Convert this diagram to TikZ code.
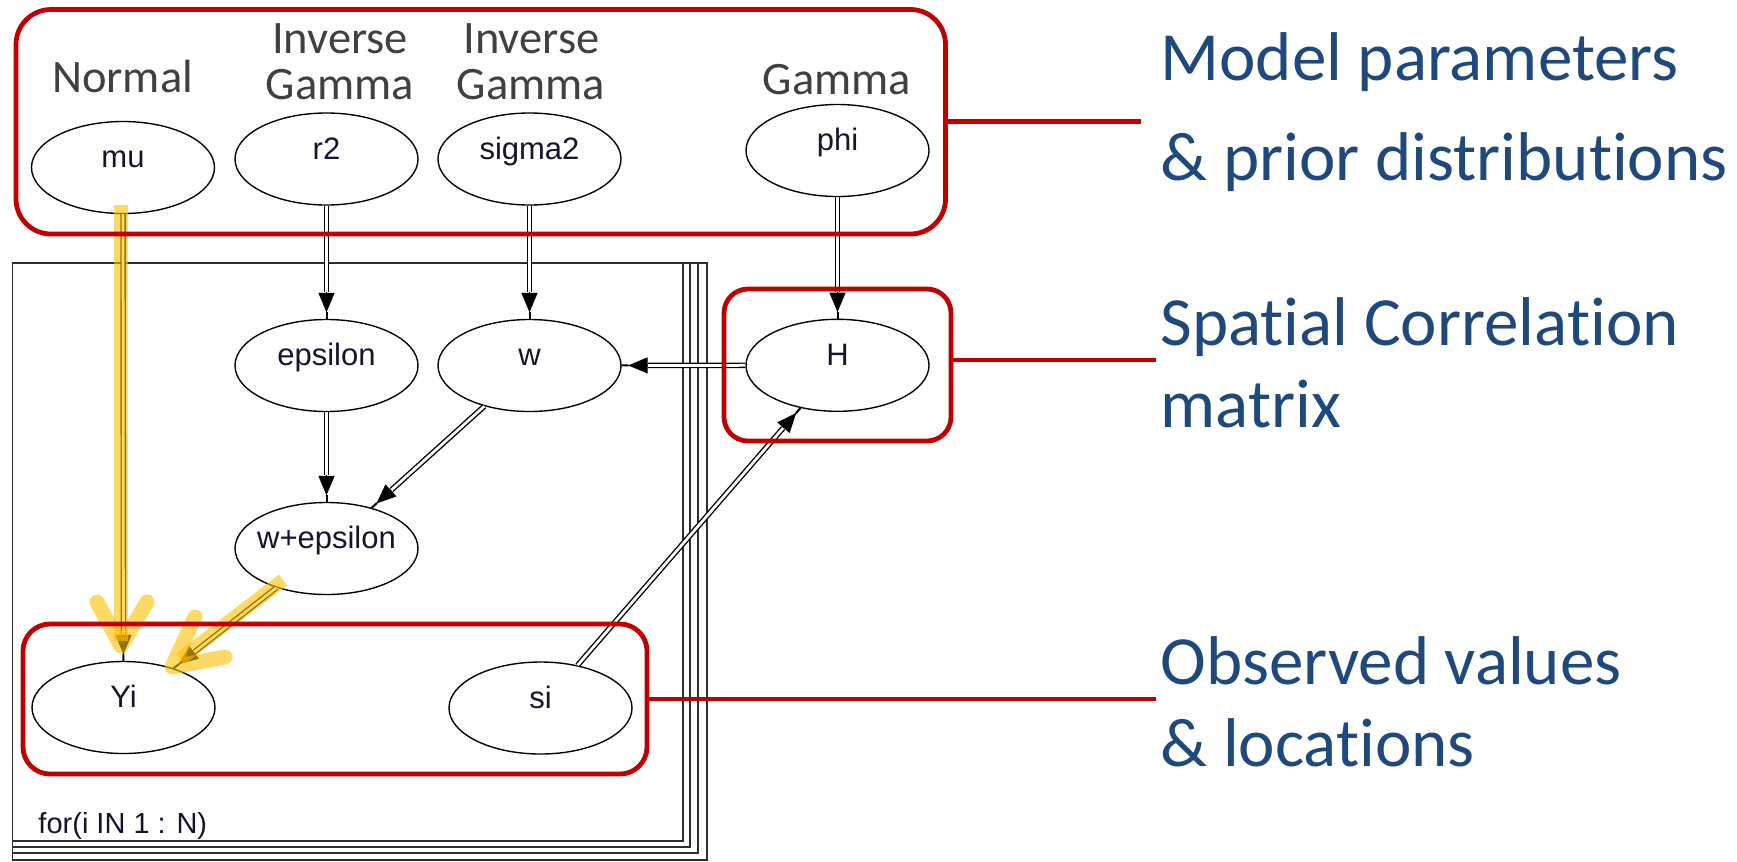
\documentclass[tikz,border=0pt]{standalone}
\usepackage{fontspec}
\setmainfont{Carlito}[Ligatures=NoCommon]
\newfontfamily\nodefont{Liberation Sans}
\usetikzlibrary{shapes.geometric,arrows.meta}

\definecolor{groupred}{HTML}{C00000}
\definecolor{notetext}{RGB}{31,73,125}
\definecolor{distgray}{HTML}{404040}
\definecolor{nodeink}{RGB}{20,20,45}
\definecolor{plategray}{HTML}{2E2E2E}
\definecolor{marker}{HTML}{FFC000}

\tikzset{
  var/.style={ellipse, draw=black, line width=0.55pt, inner sep=0pt,
    minimum width=73.2pt, minimum height=36.8pt,
    text height=4pt, text depth=4pt, text=nodeink,
    font=\nodefont\fontsize{12.4}{14}\selectfont},
  link/.style={line width=0.55pt, draw=black,
    -{Triangle[length=7.8pt,width=6.4pt] Rectangle[length=2.6pt,width=0.3pt]},
    postaction={draw, -, line width=0.55pt, double=white,
      double distance=1.1pt, shorten >=10.6pt}},
  plate/.style={draw=plategray, line width=0.5pt},
  group/.style={draw=groupred, line width=1.9pt, inner sep=0pt},
  grouplink/.style={draw=groupred, line width=1.9pt},
  dist/.style={anchor=base, inner sep=0pt, text=distgray,
    font=\fontsize{18.6}{20}\selectfont},
  note/.style={anchor=base west, inner sep=0pt, text=notetext,
    font=\fontsize{27.6}{30}\selectfont},
  glow/.style={draw=marker, draw opacity=0.6},
}

\begin{document}
\begin{tikzpicture}[x=0.4pt, y=-0.4pt]
\useasboundingbox (0,0) rectangle (1737,861);

% stacked plate for the loop over i
\draw[plate] (12.7,263) rectangle (707,860);
\draw[plate] (12.7,263) rectangle (698,853);
\draw[plate] (12.7,263) rectangle (690,847);
\draw[plate] (12.7,263) rectangle (683,841);
\node[anchor=base west, inner sep=0pt, text=nodeink,
  font=\nodefont\fontsize{11.6}{13}\selectfont] (loop) at (38,833) {for(i IN 1 : N)};

% stochastic and logical nodes
\node[var] (mu)     at (123,167.5)   {\makebox[0pt]{mu}};
\node[var] (r2)     at (326.5,159)   {\makebox[0pt]{r2}};
\node[var] (sigma2) at (529.5,159)   {\makebox[0pt]{sigma2}};
\node[var] (phi)    at (837.5,150.5) {\makebox[0pt]{phi}};
\node[var] (eps)    at (326.5,365.5) {\makebox[0pt]{epsilon}};
\node[var] (w)      at (529.5,365.5) {\makebox[0pt]{w}};
\node[var] (H)      at (837.5,365.3) {\makebox[0pt]{H}};
\node[var] (wpe)    at (326.5,548.5) {\makebox[0pt]{w+epsilon}};
\node[var] (Yi)     at (123.5,707.5) {\makebox[0pt]{Yi}};
\node[var] (si)     at (540.5,708)   {\makebox[0pt]{si}};

% prior distribution names
\node[dist] (dmu)  at (122.5,92) {Normal};
\node[dist] (dr2a) at (340,53)   {Inverse};
\node[dist] (dr2b) at (340,99)   {Gamma};
\node[dist] (dsga) at (531.5,53) {Inverse};
\node[dist] (dsgb) at (531,99)   {Gamma};
\node[dist] (dphi) at (837,94)   {Gamma};

% dependencies
\draw[link] (mu) -- (Yi);
\draw[link] (r2) -- (eps);
\draw[link] (sigma2) -- (w);
\draw[link] (phi) -- (H);
\draw[link] (H) -- (w);
\draw[link] (eps) -- (wpe);
\draw[link] (w) -- (wpe);
\draw[link] (wpe) -- (Yi);
\draw[link] (si) -- (H);

% highlighter marks on the paths into Yi
\draw[glow, line width=5.4pt, line cap=butt] (121,205) -- (121,641);
\draw[glow, line width=6pt, line cap=round, line join=round]
  (97,602) -- (121,646) -- (147,602);
\draw[glow, line width=5.4pt, line cap=butt] (283,580) -- (180,659);
\draw[glow, line width=6pt, line cap=round, line join=round]
  (195,617) -- (172,667) -- (225,657);

% grouping frames
\node[group, rounded corners=14pt, minimum width=371.8pt, minimum height=89.8pt]
  (gparam) at (480.75,121.75) {};
\node[group, rounded corners=9.6pt, minimum width=90.8pt, minimum height=60.8pt]
  (gcorr) at (837.5,365) {};
\node[group, rounded corners=10.8pt, minimum width=249.6pt, minimum height=60pt]
  (gobs) at (335,699) {};

\coordinate (eparam) at (1141,121.75);
\coordinate (ecorr)  at (1156,360);
\coordinate (eobs)   at (1156,699);
\draw[grouplink] (gparam.east) -- (eparam);
\draw[grouplink] (gcorr.east |- ecorr) -- (ecorr);
\draw[grouplink] (gobs.east) -- (eobs);

% captions
\node[note] (n1a) at (1160,80)    {Model parameters};
\node[note] (n1b) at (1160,180)   {\& prior distributions};
\node[note] (n2a) at (1160,345)   {Spatial Correlation};
\node[note] (n2b) at (1160,427.5) {matrix};
\node[note] (n3a) at (1160,684)   {Observed values};
\node[note] (n3b) at (1160,766.5) {\& locations};
\end{tikzpicture}
\end{document}
